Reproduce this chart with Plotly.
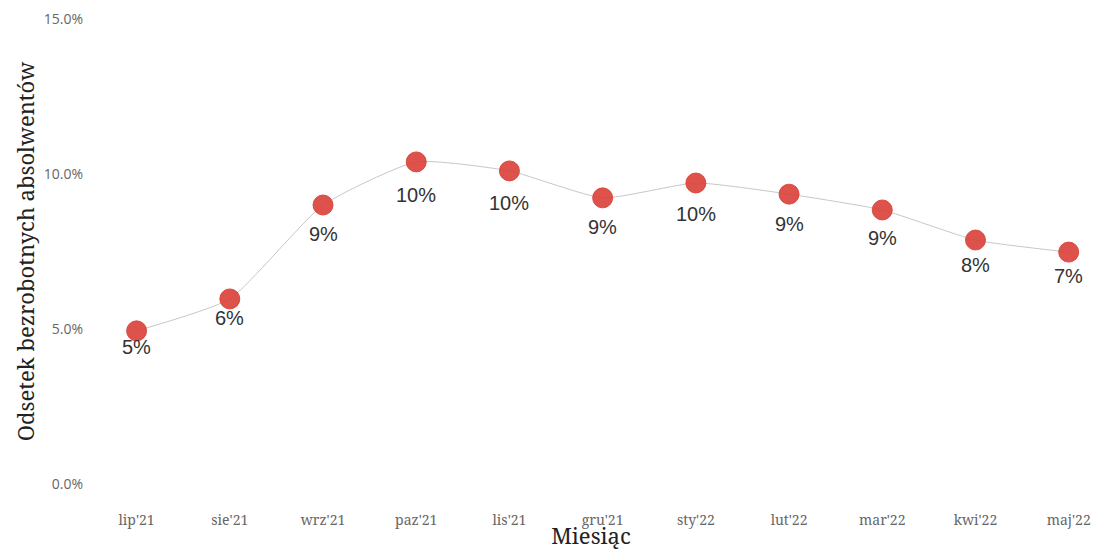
import plotly.graph_objects as go

months = ["lip'21", "sie'21", "wrz'21", "paz'21", "lis'21", "gru'21",
          "sty'22", "lut'22", "mar'22", "kwi'22", "maj'22"]
rates = [4.94, 5.97, 9.0, 10.39, 10.1, 9.23, 9.71, 9.35, 8.84, 7.87, 7.48]
labels = [f"{round(v):.0f}%" for v in rates]
yticks = [0, 5, 10, 15]
yticklabels = ["0.0%", "5.0%", "10.0%", "15.0%"]

fig = go.Figure()
fig.add_trace(go.Scatter(
    x=months, y=rates, mode="lines+markers",
    line=dict(color="#c8c8c8", width=1, shape="spline", smoothing=0.5),
    marker=dict(size=20, color="rgba(217,64,55,0.9)",
                line=dict(color="rgba(217,64,55,0.9)", width=1)),
    cliponaxis=False, showlegend=False,
))
for m, v, t in zip(months, rates, labels):
    fig.add_annotation(x=m, y=v * 0.9, text=t, showarrow=False, yshift=-1,
                       font=dict(family="Liberation Sans, Arial, sans-serif", size=20, color="#333333"))

fig.update_layout(
    width=1093, height=550,
    margin=dict(l=90, r=1, t=19, b=66),
    paper_bgcolor="white", plot_bgcolor="white",
    xaxis=dict(
        type="category", range=[-0.5, 10.25], automargin=False,
        showgrid=False, zeroline=False, showline=False, ticks="",
        tickfont=dict(family="Noto Serif, DejaVu Serif, serif", size=14, color="#666666"),
        ticklabelstandoff=26,
        title=dict(text="Miesiąc", font=dict(family="Noto Serif, DejaVu Serif, serif", size=22, color="#222222"),
                   standoff=3),
    ),
    yaxis=dict(
        range=[0, 15], tickvals=yticks, ticktext=yticklabels, automargin=False,
        showgrid=False, zeroline=False, showline=False, ticks="",
        tickfont=dict(family="Open Sans, Noto Sans, sans-serif", size=14, color="#666666"),
        ticklabelstandoff=6,
        title=dict(text="Odsetek bezrobotnych absolwentów",
                   font=dict(family="Noto Serif, DejaVu Serif, serif", size=22, color="#222222"),
                   standoff=3),
    ),
)

fig.write_html("out.html", config={"displayModeBar": False},
               post_script="document.body.style.margin='0';")
